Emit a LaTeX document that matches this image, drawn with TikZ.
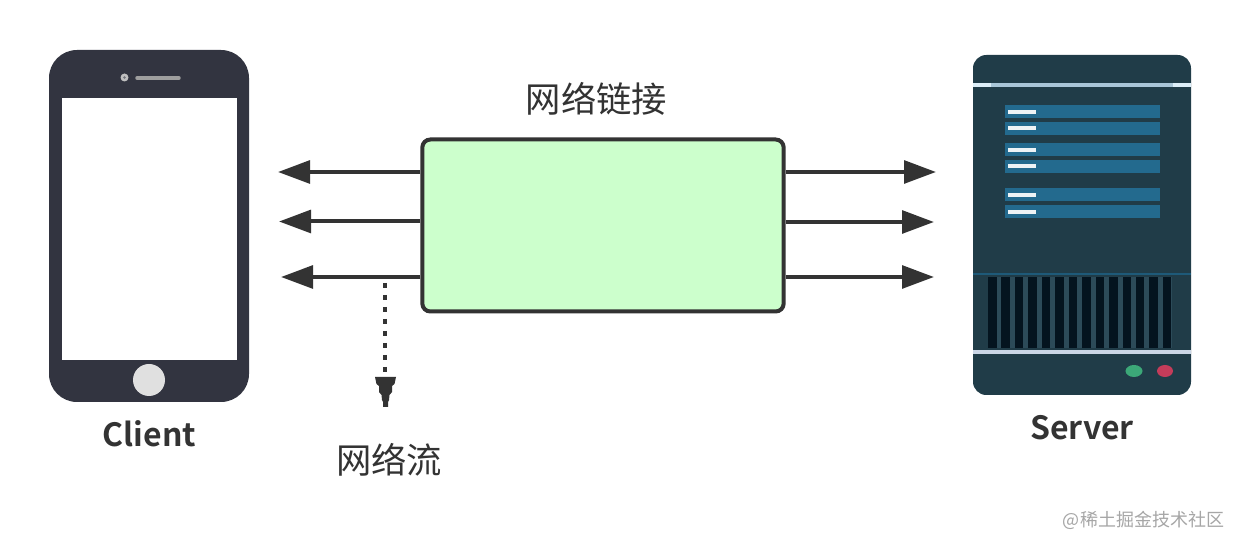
\documentclass[tikz,border=0pt]{standalone}
\usepackage{fontspec}
\usetikzlibrary{arrows.meta}
\newfontfamily\cjkfont{Noto Sans CJK SC}[BoldFont={Noto Sans CJK SC Bold}]
\definecolor{ink}{HTML}{333333}
\definecolor{phonebody}{HTML}{323440}
\definecolor{serverbody}{HTML}{203C48}
\definecolor{serverbar}{HTML}{236A8E}
\definecolor{serverline}{HTML}{A9C6D8}
\definecolor{serverend}{HTML}{DCEEF8}
\definecolor{serverlow}{HTML}{CBD6E6}
\definecolor{ventdark}{HTML}{04141F}
\definecolor{ventgap}{HTML}{2C4B59}
\definecolor{ledgreen}{HTML}{3CA878}
\definecolor{ledred}{HTML}{C43C5A}
\definecolor{linkfill}{HTML}{CCFFCC}
\tikzset{
  x=0.75pt,y=-0.75pt,
  flow/.style={draw=ink,line width=3pt,-{Triangle[length=24pt,width=17pt]}},
  linkbox/.style={draw=ink,fill=linkfill,line width=3pt,rounded corners=6pt,minimum width=271pt,minimum height=129pt,inner sep=0pt},
  cjklabel/.style={text=ink,font=\cjkfont\fontsize{26.5}{30}\selectfont,inner sep=0pt},
  devlabel/.style={text=ink,font=\cjkfont\bfseries\fontsize{24}{28}\selectfont,inner sep=0pt},
  mark text/.style={text=black!35,font=\cjkfont\fontsize{13.5}{16}\selectfont,inner sep=0pt},
  rackbar/.style={fill=serverbar,draw=none},
  rackdash/.style={draw=white!92!serverbar,line width=2.6pt},
  vent/.style={fill=ventdark,draw=none},
}
\begin{document}
\begin{tikzpicture}
\useasboundingbox (0,0) rectangle (1240,548);
\fill[white] (0,0) rectangle (1240,548);
% phone
\fill[phonebody,rounded corners=21pt] (49,50) rectangle (249,402);
\fill[white] (62,98.5) rectangle (237,360);
\fill[black!25] (124.5,77.5) circle (4);
\fill[phonebody!70!white] (124.5,77.5) circle (1.3);
\draw[black!38,line width=2.6pt,line cap=round] (137,78) -- (179,78);
\fill[black!12] (149,380) circle (16);
% server
\fill[serverbody,rounded corners=10pt] (973,55) rectangle (1191,395);
\draw[serverline,line width=2.6pt] (973,85) -- (1191,85);
\draw[serverend,line width=2.6pt] (973,85) -- (991,85) (1173,85) -- (1191,85);
\foreach \y/\d in {105/112,122/128,143/150,160/166,188/195,205/212}{
  \fill[rackbar] (1005,\y) rectangle (1160,\y+13);
  \draw[rackdash] (1008,\d) -- (1036,\d);
}
\draw[serverbar!85!black,line width=1.5pt] (973,274) -- (1191,274);
\fill[ventgap] (988,277) rectangle (1172,348);
\foreach \i in {0,...,13}{
  \fill[vent] (988+\i*13.45,277) rectangle (996.5+\i*13.45,348);
}
\draw[serverlow,line width=3pt] (973,352) -- (1191,352);
\fill[ledgreen] (1134,371) ellipse (8.5 and 6);
\fill[ledred] (1165,371) ellipse (8 and 6);
% labels
\node[devlabel] (client) at (149.5,434) {Client};
\node[devlabel] (server) at (1082,428) {Server};
\node[cjklabel] (linktitle) at (596.5,99) {网络链接};
\node[cjklabel] (flowtitle) at (389,460) {网络流};
\node[mark text] (mark) at (1143.5,520) {@稀土掘金技术社区};
% link box and connectors
\node[linkbox] (link) at (603,225.5) {};
\coordinate (ll1) at (278,172);
\coordinate (ll2) at (279,221.5);
\coordinate (ll3) at (281,277);
\coordinate (rr1) at (936,172);
\coordinate (rr2) at (934,222);
\coordinate (rr3) at (934,277);
\coordinate (lb1) at (link.west |- ll1);
\coordinate (lb2) at (link.west |- ll2);
\coordinate (lb3) at (link.west |- ll3);
\coordinate (rb1) at (link.east |- rr1);
\coordinate (rb2) at (link.east |- rr2);
\coordinate (rb3) at (link.east |- rr3);
\draw[flow] (lb1) -- (ll1);
\draw[flow] (lb2) -- (ll2);
\draw[flow] (lb3) -- (ll3);
\draw[flow] (rb1) -- (rr1);
\draw[flow] (rb2) -- (rr2);
\draw[flow] (rb3) -- (rr3);
% dotted branch
\coordinate (dropstart) at (385.3,283);
\coordinate (dropend) at (385.3,375);
\draw[ink,line width=3.2pt,dash pattern=on 3.8pt off 5.2pt] (dropstart) -- (dropend);
\fill[ink] (375,377) -- (396,377) -- (394.5,384) -- (392,386) -- (392,392) -- (389.5,395) -- (389,400) -- (388,402) -- (388,407) -- (383,407) -- (383,402) -- (382,400) -- (381.5,395) -- (379,392) -- (379,386) -- (376.5,384) -- cycle;
\end{tikzpicture}
\end{document}
